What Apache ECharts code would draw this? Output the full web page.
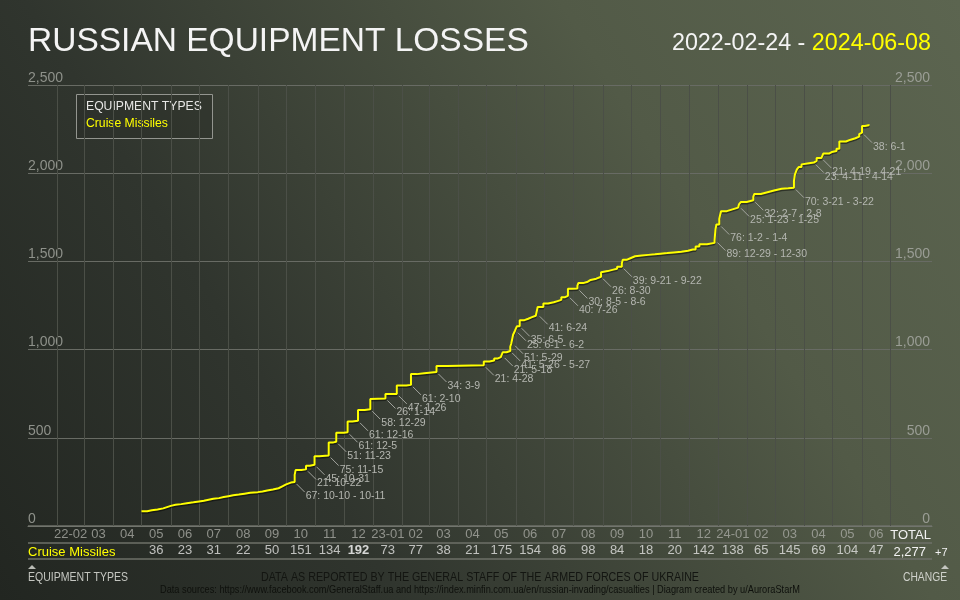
<!DOCTYPE html>
<html>
	<head>
		<meta charset="utf-8" />
		<title>Russian equipment losses - cruise missiles</title>
		<script src="https://cdn.jsdelivr.net/npm/echarts@6/dist/echarts.min.js"></script>
		<style>
			*{
				padding: 0;
				margin: 0;
			}
			.main{
				width: 960px;
				height: 600px;
			}
		</style>
	</head>
	<body>
		<div id="main" class="main"></div>
		<script type="text/javascript">

		// month columns of the table under the chart
		var months = ['2022-02','2022-03','2022-04','2022-05','2022-06','2022-07','2022-08','2022-09','2022-10','2022-11','2022-12',
			'2023-01','2023-02','2023-03','2023-04','2023-05','2023-06','2023-07','2023-08','2023-09','2023-10','2023-11','2023-12',
			'2024-01','2024-02','2024-03','2024-04','2024-05','2024-06'];
		var monthLabels = ['22-02','03','04','05','06','07','08','09','10','11','12',
			'23-01','02','03','04','05','06','07','08','09','10','11','12',
			'24-01','02','03','04','05','06'];
		var monthlyLosses = [null,null,null,36,23,31,22,50,151,134,192,
			73,77,38,21,175,154,86,98,84,18,20,142,
			138,65,145,69,104,47];
		var totalLosses = 2277;
		var lastChange = 7;

		// cumulative count
		var lossDates = [
			'2022-05-01','2022-05-07','2022-05-12','2022-05-18','2022-05-24','2022-05-28',
			'2022-06-01','2022-06-06','2022-06-12','2022-06-18','2022-06-25',
			'2022-07-01','2022-07-06','2022-07-11','2022-07-16','2022-07-22','2022-07-27',
			'2022-08-01','2022-08-06','2022-08-12','2022-08-18','2022-08-24',
			'2022-09-01','2022-09-06','2022-09-11','2022-09-17','2022-09-23','2022-09-27',
			'2022-10-01','2022-10-06','2022-10-10','2022-10-11','2022-10-17','2022-10-22','2022-10-26','2022-10-31',
			'2022-11-05','2022-11-15','2022-11-20','2022-11-23',
			'2022-12-01','2022-12-05','2022-12-10','2022-12-16','2022-12-23','2022-12-29','2022-12-31',
			'2023-01-14','2023-01-26',
			'2023-02-05','2023-02-10','2023-02-16','2023-02-24',
			'2023-03-09','2023-03-20',
			'2023-04-28',
			'2023-05-04','2023-05-09','2023-05-13','2023-05-16','2023-05-18','2023-05-22','2023-05-26','2023-05-27','2023-05-29','2023-05-31',
			'2023-06-01','2023-06-02','2023-06-05','2023-06-10','2023-06-14','2023-06-18','2023-06-22','2023-06-24','2023-06-30',
			'2023-07-05','2023-07-11','2023-07-15','2023-07-19','2023-07-23','2023-07-26','2023-07-30',
			'2023-08-05','2023-08-06','2023-08-11','2023-08-16','2023-08-19','2023-08-25','2023-08-30',
			'2023-09-01','2023-09-06','2023-09-11','2023-09-16','2023-09-21','2023-09-22','2023-09-26','2023-09-30',
			'2023-10-05','2023-10-12','2023-10-19','2023-10-26',
			'2023-11-01','2023-11-08','2023-11-15','2023-11-23','2023-11-30',
			'2023-12-05','2023-12-08','2023-12-12','2023-12-20','2023-12-28','2023-12-29','2023-12-30',
			'2024-01-02','2024-01-03','2024-01-04','2024-01-10','2024-01-16','2024-01-22','2024-01-23','2024-01-25','2024-01-31',
			'2024-02-07','2024-02-08','2024-02-15','2024-02-22','2024-02-29',
			'2024-03-08','2024-03-15','2024-03-21','2024-03-22','2024-03-24','2024-03-26','2024-03-29','2024-03-31',
			'2024-04-06','2024-04-11','2024-04-14','2024-04-19','2024-04-21','2024-04-27','2024-04-30',
			'2024-05-05','2024-05-08','2024-05-15','2024-05-20','2024-05-25','2024-05-29','2024-05-31',
			'2024-06-01','2024-06-04','2024-06-08'
		];
		var lossTotals = [
			84,89,94,100,107,114,
			120,124,129,134,139,
			143,149,154,158,164,169,
			174,178,183,188,192,
			196,201,207,214,225,236,
			246,249,290,317,321,342,347,395,
			399,474,477,528,
			531,592,596,657,662,720,723,
			749,796,
			800,861,866,873,
			907,911,
			932,
			938,950,957,964,985,992,1016,1033,1084,1107,
			1120,1132,1167,1175,1184,1192,1200,1241,1261,
			1268,1275,1282,1297,1305,1345,1347,
			1362,1377,1385,1395,1402,1413,1439,
			1445,1452,1458,1470,1490,1509,1518,1529,
			1533,1537,1540,1544,
			1547,1551,1555,1560,1567,
			1568,1585,1597,1605,1618,1680,1709,
			1740,1765,1785,1795,1805,1812,1825,1837,1847,
			1866,1882,1892,1902,1912,
			1915,1918,1957,1992,2020,2035,2050,2057,
			2060,2070,2086,2097,2111,2120,2126,
			2138,2180,2190,2198,2207,2222,2230,
			2268,2272,2277
		];

		// big strikes marked on the line: [date, level before the jump, text]
		var strikes = [
			['2022-10-10', 249, '67: 10-10 - 10-11'],
			['2022-10-22', 321, '21: 10-22'],
			['2022-10-31', 347, '45: 10-31'],
			['2022-11-15', 399, '75: 11-15'],
			['2022-11-23', 477, '51: 11-23'],
			['2022-12-05', 531, '61: 12-5'],
			['2022-12-16', 596, '61: 12-16'],
			['2022-12-29', 662, '58: 12-29'],
			['2023-01-14', 723, '26: 1-14'],
			['2023-01-26', 749, '47: 1-26'],
			['2023-02-10', 800, '61: 2-10'],
			['2023-03-09', 873, '34: 3-9'],
			['2023-04-28', 911, '21: 4-28'],
			['2023-05-18', 964, '21: 5-18'],
			['2023-05-26', 992, '41: 5-26 - 5-27'],
			['2023-05-29', 1033, '51: 5-29'],
			['2023-06-01', 1107, '25: 6-1 - 6-2'],
			['2023-06-05', 1132, '35: 6-5'],
			['2023-06-24', 1200, '41: 6-24'],
			['2023-07-26', 1305, '40: 7-26'],
			['2023-08-05', 1347, '30: 8-5 - 8-6'],
			['2023-08-30', 1413, '26: 8-30'],
			['2023-09-21', 1470, '39: 9-21 - 9-22'],
			['2023-12-29', 1618, '89: 12-29 - 12-30'],
			['2024-01-02', 1709, '76: 1-2 - 1-4'],
			['2024-01-23', 1812, '25: 1-23 - 1-25'],
			['2024-02-07', 1847, '32: 2-7 - 2-8'],
			['2024-03-21', 1918, '70: 3-21 - 3-22'],
			['2024-04-11', 2060, '23: 4-11 - 4-14'],
			['2024-04-19', 2086, '21: 4-19 - 4-21'],
			['2024-06-01', 2230, '38: 6-1']
		];

		var myChart = echarts.init(document.getElementById('main'));

		var fontMain = 'Liberation Sans, Arial, sans-serif';

		// no narrow font installed: squeeze footer texts to their width in the original
		var measure = document.createElement('canvas').getContext('2d');
		function squeeze(text, size, width) {
			measure.font = size + 'px ' + fontMain;
			return width / measure.measureText(text).width;
		}

		function monthStart(ym, add) {
			var p = ym.split('-');
			return new Date(+p[0], +p[1] - 1 + (add || 0), 1).getTime();
		}

		var lineData = lossDates.map(function (d, i) { return [d, lossTotals[i]]; });

		// month boundaries (vertical grid)
		var boundaries = months.map(function (m) { return { xAxis: monthStart(m) }; });
		boundaries.push({ xAxis: monthStart(months[months.length - 1], 1) });

		var maxMonth = Math.max.apply(null, monthlyLosses.filter(function (v) { return v != null; }));
		var monthRow = [], valueRow = [];
		months.forEach(function (m, i) {
			var mid = (monthStart(m) + monthStart(m, 1)) / 2;
			monthRow.push([mid, 1.5, monthLabels[i]]);
			if (monthlyLosses[i] != null) {
				valueRow.push({
					value: [mid, 0.5, monthlyLosses[i]],
					label: monthlyLosses[i] === maxMonth ? { fontWeight: 'bold', color: '#ffffff' } : {}
				});
			}
		});

		var tMin = '2022-01-01', tMax = '2024-08-14';

		var footTitle = 'DATA AS REPORTED BY THE GENERAL STAFF OF THE ARMED FORCES OF UKRAINE';
		var footSource = 'Data sources: https://www.facebook.com/GeneralStaff.ua and https://index.minfin.com.ua/en/russian-invading/casualties | Diagram created by u/AuroraStarM';

		function txt(x, y, text, size, color, align, width) {
			return {
				type: 'text', x: x, y: y,
				scaleX: width ? squeeze(text, size, width) : 1,
				style: {
					text: text, fill: color, fontSize: size, fontFamily: fontMain,
					align: align, textAlign: align, verticalAlign: 'middle', textVerticalAlign: 'middle'
				}
			};
		}

		var option = {
			animation: false,
			backgroundColor: {
				type: 'linear', x: 0, y: 1, x2: 1, y2: 0,
				colorStops: [
					{ offset: 0, color: '#222621' },
					{ offset: 0.3, color: '#30352e' },
					{ offset: 0.7, color: '#525a47' },
					{ offset: 1, color: '#5c6550' }
				]
			},
			title: [{
				text: 'RUSSIAN EQUIPMENT LOSSES',
				left: 23, top: 20,
				textStyle: { color: '#f4f4f4', fontSize: 33.5, fontWeight: 'normal', fontFamily: fontMain }
			}, {
				text: '2022-02-24 - {y|2024-06-08}',
				right: 24, top: 27,
				textStyle: {
					color: '#f4f4f4', fontSize: 23.3, fontWeight: 'normal', fontFamily: fontMain,
					rich: { y: { color: '#ffff00', fontSize: 23.3, fontFamily: fontMain } }
				}
			}],
			grid: [
				{ left: 28, right: 28, top: 85, bottom: 74 },
				{ left: 28, right: 28, top: 526, height: 33 }
			],
			xAxis: [{
				type: 'time', gridIndex: 0, min: tMin, max: tMax,
				axisLine: { show: true, lineStyle: { color: '#72756e', width: 1 } },
				axisTick: { show: false },
				axisLabel: { show: false },
				splitLine: { show: false }
			}, {
				type: 'time', gridIndex: 1, min: tMin, max: tMax,
				axisLine: { show: false },
				axisTick: { show: false },
				axisLabel: { show: false },
				splitLine: { show: false }
			}],
			yAxis: [{
				type: 'value', gridIndex: 0, min: 0, max: 2500, interval: 500,
				axisLine: { show: false }, axisTick: { show: false },
				axisLabel: {
					inside: true, margin: 0, align: 'left', verticalAlign: 'bottom',
					color: '#8e918a', fontSize: 14, fontFamily: fontMain,
					formatter: function (v) { return v.toLocaleString('en-US'); }
				},
				splitLine: { show: true, lineStyle: { color: '#686b64', width: 1 } }
			}, {
				type: 'value', gridIndex: 0, position: 'right', min: 0, max: 2500, interval: 500,
				axisLine: { show: false }, axisTick: { show: false },
				axisLabel: {
					inside: true, margin: 2, align: 'right', verticalAlign: 'bottom',
					color: '#9a9d95', fontSize: 14, fontFamily: fontMain,
					formatter: function (v) { return v.toLocaleString('en-US'); }
				},
				splitLine: { show: false }
			}, {
				type: 'value', gridIndex: 1, min: 0, max: 2, interval: 1,
				axisLine: { show: false }, axisTick: { show: false },
				axisLabel: { show: false },
				splitLine: { show: true, lineStyle: { color: '#6e7169', width: 1.5 } }
			}],
			series: [{
				name: 'Cruise Missiles',
				type: 'line',
				xAxisIndex: 0, yAxisIndex: 0,
				step: 'end',
				showSymbol: false,
				data: lineData,
				lineStyle: {
					color: '#ffff00', width: 2,
					shadowColor: 'rgba(0,0,0,0.45)', shadowBlur: 0, shadowOffsetY: 1.5
				},
				z: 5,
				markLine: {
					silent: true,
					symbol: ['none', 'none'],
					label: { show: false },
					lineStyle: { color: '#4b4f47', width: 1, type: 'solid' },
					data: boundaries,
					z: 1
				}
			}, {
				type: 'custom',
				xAxisIndex: 0, yAxisIndex: 0,
				data: strikes,
				encode: { x: 0, y: 1 },
				z: 4,
				renderItem: function (params, api) {
					var p = api.coord([api.value(0), api.value(1)]);
					return {
						type: 'group',
						children: [{
							type: 'line',
							shape: { x1: p[0] + 2, y1: p[1] + 2, x2: p[0] + 10, y2: p[1] + 10 },
							style: { stroke: '#a3a59f', lineWidth: 1 }
						}, {
							type: 'text',
							x: p[0] + 11, y: p[1] + 14,
							style: {
								text: strikes[params.dataIndex][2],
								fill: '#b4b6b0', fontSize: 10.5, fontFamily: fontMain,
								align: 'left', verticalAlign: 'middle'
							}
						}]
					};
				}
			}, {
				type: 'scatter',
				xAxisIndex: 1, yAxisIndex: 2,
				symbolSize: 0,
				data: monthRow,
				label: {
					show: true, position: 'inside',
					color: '#a7a9a3', fontSize: 13, fontFamily: fontMain,
					formatter: function (p) { return p.value[2]; }
				}
			}, {
				type: 'scatter',
				xAxisIndex: 1, yAxisIndex: 2,
				symbolSize: 0,
				data: valueRow,
				label: {
					show: true, position: 'inside',
					color: '#e4e4e2', fontSize: 13, fontFamily: fontMain,
					formatter: function (p) { return p.value[2]; }
				}
			}],
			graphic: [
				// legend box
				{ type: 'rect', shape: { x: 76.5, y: 94.5, width: 136, height: 44 },
					style: { fill: 'rgba(40,44,38,0.35)', stroke: '#93958f', lineWidth: 1 } },
				txt(86, 107, 'EQUIPMENT TYPES', 12.2, '#e6e6e4', 'left'),
				txt(86, 124, 'Cruise Missiles', 12.2, '#ffff00', 'left'),
				// table row header and totals
				txt(28, 552, 'Cruise Missiles', 13, '#ffff00', 'left'),
				txt(931, 535, 'TOTAL', 13, '#f2f2f2', 'right'),
				txt(926, 552, totalLosses.toLocaleString('en-US'), 13, '#f2f2f2', 'right'),
				txt(935, 553, '+' + lastChange, 11, '#f2f2f2', 'left'),
				// footer
				{ type: 'polygon', shape: { points: [[28, 569], [32, 565], [36, 569]] }, style: { fill: '#b9bbb5' } },
				txt(28, 577, 'EQUIPMENT TYPES', 13, '#c4c6c0', 'left', 100),
				{ type: 'polygon', shape: { points: [[941, 569], [945, 565], [949, 569]] }, style: { fill: '#c4c6c0' } },
				txt(947, 577, 'CHANGE', 13, '#d0d2cc', 'right', 44),
				txt(480, 577, footTitle, 13, '#131511', 'center', 438),
				txt(480, 590, footSource, 10.5, '#0e100c', 'center', 640)
			]
		};

		myChart.setOption(option);
		</script>
	</body>
</html>
